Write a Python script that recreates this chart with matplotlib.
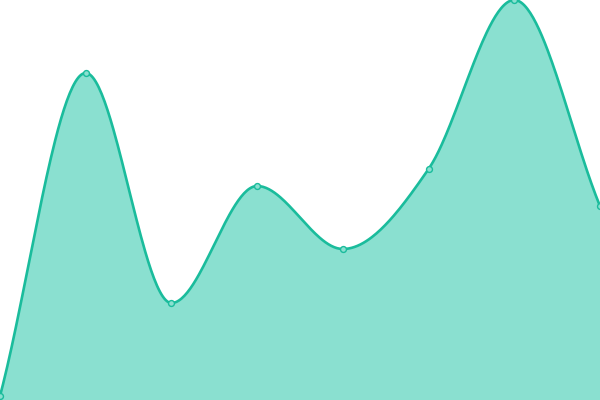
import numpy as np
import matplotlib
matplotlib.use("Agg")
import matplotlib.pyplot as plt

labels = ["A", "B", "C", "D", "E", "F", "G", "H"]
values = [4, 327, 97, 214, 151, 231, 400, 194]

line_color = "#1abc9c"
fill_color = "#8ae0d0"


def monotone_curve(xs, ys, steps=60):
    # monotone cubic hermite, same idea as chart.js "monotone"
    xs = np.asarray(xs, float)
    ys = np.asarray(ys, float)
    n = len(xs)
    dx = np.diff(xs)
    d = np.diff(ys) / dx
    m = np.zeros(n)
    m[0] = d[0]
    m[-1] = d[-1]
    for i in range(1, n - 1):
        if d[i - 1] * d[i] > 0:
            m[i] = (d[i - 1] + d[i]) / 2
    for i in range(n - 1):
        if d[i] == 0:
            m[i] = m[i + 1] = 0
            continue
        a = m[i] / d[i]
        b = m[i + 1] / d[i]
        s = a * a + b * b
        if s > 9:
            t = 3 / np.sqrt(s)
            m[i] = t * a * d[i]
            m[i + 1] = t * b * d[i]
    out_x, out_y = [], []
    for i in range(n - 1):
        t = np.linspace(0, 1, steps)
        h00 = 2 * t**3 - 3 * t**2 + 1
        h10 = t**3 - 2 * t**2 + t
        h01 = -2 * t**3 + 3 * t**2
        h11 = t**3 - t**2
        out_x.extend(xs[i] + t * dx[i])
        out_y.extend(h00 * ys[i] + h10 * dx[i] * m[i] + h01 * ys[i + 1] + h11 * dx[i] * m[i + 1])
    return np.array(out_x), np.array(out_y)


x = np.arange(len(values))
cx, cy = monotone_curve(x, values)

fig = plt.figure(figsize=(6, 4), dpi=100)
ax = fig.add_axes([0, 0, 1, 1])
ax.fill_between(cx, cy, 0, color=fill_color, linewidth=0)
ax.plot(cx, cy, color=line_color, linewidth=1.9, solid_capstyle="round")
ax.scatter(x, values, s=18, facecolor=fill_color, edgecolor=line_color, linewidth=1, zorder=3)
ax.set_xlim(0, len(values) - 1)
ax.set_ylim(0, 400)
ax.axis("off")
fig.savefig("out.png", dpi=100)
